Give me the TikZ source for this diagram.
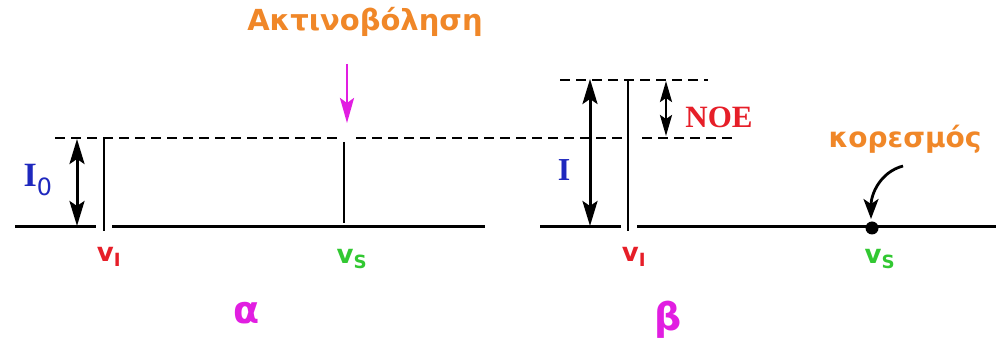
\documentclass[tikz,border=0pt]{standalone}
\usepackage{fontspec}
\setmainfont{Liberation Serif}
\newfontfamily\grf{DejaVu Sans}
\usetikzlibrary{arrows.meta}
\definecolor{cOr}{RGB}{240,135,40}
\definecolor{cRd}{RGB}{230,30,40}
\definecolor{cGn}{RGB}{50,200,50}
\definecolor{cBl}{RGB}{30,40,190}
\definecolor{cMg}{RGB}{225,30,225}
\begin{document}
\begin{tikzpicture}[x=1pt,y=-1pt,
  base/.style={line width=3pt},
  dsh/.style={line width=2.8pt,dash pattern=on 10pt off 6pt},
  vline/.style={line width=2.8pt},
  bigtip/.style={Stealth[length=25pt,width=15pt,inset=5pt]},
  dbl/.style={line width=3pt,{Stealth[length=25pt,width=15pt,inset=5pt]}-{Stealth[length=25pt,width=15pt,inset=5pt]}},
  lbl/.style={inner sep=0pt},
  vlab/.style={inner sep=0pt,font=\grf\bfseries\fontsize{26}{26}\selectfont}]
\useasboundingbox (0,0) rectangle (996,344);
% coordinates
\coordinate (L0) at (15,227);  \coordinate (L1) at (96,227);
\coordinate (L2) at (112,227); \coordinate (L3) at (485,227);
\coordinate (R0) at (540,227); \coordinate (R1) at (621,227);
\coordinate (R2) at (637,227); \coordinate (R3) at (996,227);
% baselines
\draw[base] (L0) -- (L1);
\draw[base] (L2) -- (L3);
\draw[base] (R0) -- (R1);
\draw[base] (R2) -- (R3);
% dashed lines
\coordinate (D0) at (55,138); \coordinate (D1) at (337,138);
\coordinate (D2) at (356,138); \coordinate (D3) at (622,138);
\coordinate (D4) at (642,138); \coordinate (D5) at (733,138);
\draw[dsh] (D0) -- (D1);
\draw[dsh] (D2) -- (D3);
\draw[dsh] (D4) -- (D5);
\coordinate (T0) at (560,80); \coordinate (T1) at (708,80);
\draw[dsh] (T0) -- (T1);
% vertical lines
\coordinate (VIa) at (104,138); \coordinate (VIb) at (104,231);
\draw[vline] (VIa) -- (VIb);
\coordinate (VSa) at (344,142); \coordinate (VSb) at (344,223);
\draw[vline] (VSa) -- (VSb);
\coordinate (VBa) at (628,80); \coordinate (VBb) at (628,231);
\draw[vline] (VBa) -- (VBb);
% double arrows
\coordinate (A0a) at (77,139); \coordinate (A0b) at (77,226);
\draw[dbl] (A0a) -- (A0b);
\coordinate (Aa) at (590,79); \coordinate (Ab) at (590,226);
\draw[dbl] (Aa) -- (Ab);
\coordinate (Na) at (666,81); \coordinate (Nb) at (666,136);
\draw[line width=2.6pt,{Stealth[length=21pt,width=12pt,inset=4pt]}-{Stealth[length=21pt,width=12pt,inset=4pt]}] (Na) -- (Nb);
% irradiation arrow
\node[lbl,text=cOr,font=\grf\bfseries\fontsize{29}{29}\selectfont] (irr) at (365,22) {Ακτινοβόληση};
\coordinate (Ma) at (347,64); \coordinate (Mb) at (347,123);
\draw[cMg,line width=2.8pt,-{Stealth[length=25pt,width=14pt,inset=5pt]}] (Ma) -- (Mb);
% labels
\node[lbl,text=cBl,font=\bfseries\fontsize{34}{34}\selectfont] (I0) at (38,180) {I\textsubscript{\grf\mdseries 0}};
\node[lbl,text=cBl,font=\bfseries\fontsize{32}{32}\selectfont] (Ib) at (564,170) {I};
\node[lbl,text=cRd,font=\bfseries\fontsize{31}{31}\selectfont] (noe) at (719,117) {NOE};
\node[vlab,text=cRd] (vIa) at (109,257) {v\textsubscript{I}};
\node[vlab,text=cGn] (vSa) at (352,259) {v\textsubscript{S}};
\node[vlab,text=cRd] (vIb) at (634,257) {v\textsubscript{I}};
\node[vlab,text=cGn] (vSb) at (880,259) {v\textsubscript{S}};
\node[lbl,text=cMg,font=\grf\bfseries\fontsize{38}{38}\selectfont] (alpha) at (247,313) {α};
\node[lbl,text=cMg,font=\grf\bfseries\fontsize{38}{38}\selectfont] (beta) at (668,320) {β};
% saturation
\node[lbl,text=cOr,font=\grf\bfseries\fontsize{28}{28}\selectfont] (kor) at (905,139) {κορεσμός};
\fill (872,228) circle (6.5pt) coordinate (dot);
\coordinate (Ca) at (903,166); \coordinate (Cb) at (871,219);
\draw[line width=2.8pt,-{Stealth[length=20pt,width=15pt,inset=5pt]}] (Ca) to[out=195,in=90] (Cb);
\end{tikzpicture}
\end{document}
